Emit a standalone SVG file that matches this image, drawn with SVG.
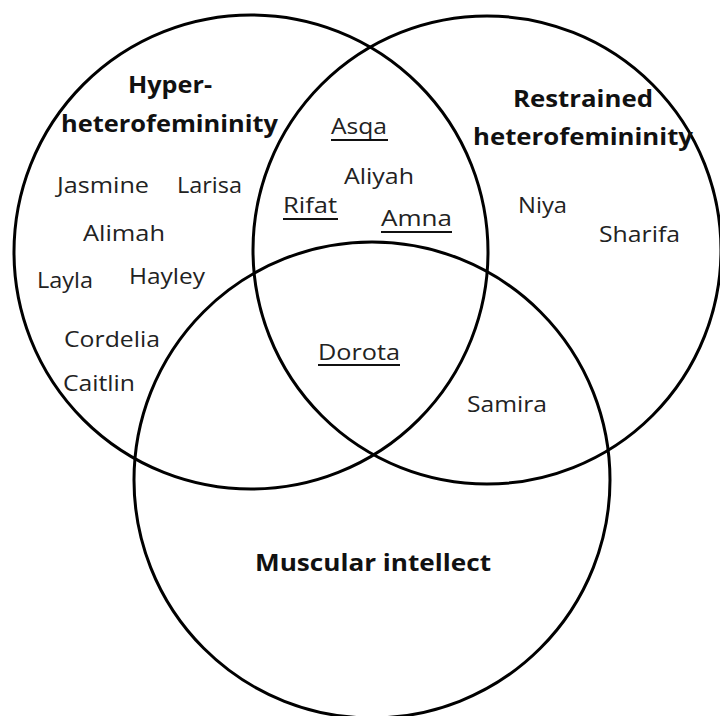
<svg xmlns="http://www.w3.org/2000/svg" width="720" height="716" viewBox="0 0 720 716">
<style>
.c{fill:none;stroke:#000;stroke-width:3}
.t{font-family:"Open Sans","Liberation Sans",sans-serif;font-size:21px;fill:#222}
.b{font-family:"Open Sans","Liberation Sans",sans-serif;font-size:24px;font-weight:bold;fill:#111}
.u{stroke:#111;stroke-width:2}
</style>
<rect width="720" height="716" fill="#fff"/>
<g id="circles">
<g id="hyper"><circle class="c" cx="251" cy="252" r="237"/></g>
<g id="restrained"><circle class="c" cx="487" cy="250" r="234"/></g>
<g id="muscular"><circle class="c" cx="372" cy="480" r="238"/></g>
</g>
<g id="labels">
<text class="b" x="128" y="93" textLength="84" lengthAdjust="spacingAndGlyphs">Hyper-</text>
<text class="b" x="61" y="132" textLength="217" lengthAdjust="spacingAndGlyphs">heterofemininity</text>
<text class="b" x="513" y="107" textLength="140" lengthAdjust="spacingAndGlyphs">Restrained</text>
<text class="b" x="473" y="145" textLength="220" lengthAdjust="spacingAndGlyphs">heterofemininity</text>
<text class="b" x="255" y="571" textLength="236" lengthAdjust="spacingAndGlyphs">Muscular intellect</text>
</g>
<g id="names">
<text class="t" x="57" y="193" textLength="92" lengthAdjust="spacingAndGlyphs">Jasmine</text>
<text class="t" x="177" y="193" textLength="65" lengthAdjust="spacingAndGlyphs">Larisa</text>
<text class="t" x="83" y="241" textLength="82" lengthAdjust="spacingAndGlyphs">Alimah</text>
<text class="t" x="37" y="288" textLength="56" lengthAdjust="spacingAndGlyphs">Layla</text>
<text class="t" x="129" y="284" textLength="76" lengthAdjust="spacingAndGlyphs">Hayley</text>
<text class="t" x="64" y="347" textLength="96" lengthAdjust="spacingAndGlyphs">Cordelia</text>
<text class="t" x="63" y="391" textLength="72" lengthAdjust="spacingAndGlyphs">Caitlin</text>
<text class="t" x="331" y="134" textLength="56" lengthAdjust="spacingAndGlyphs">Asqa</text>
<line class="u" x1="331" y1="140" x2="388" y2="140"/>
<text class="t" x="344" y="184" textLength="70" lengthAdjust="spacingAndGlyphs">Aliyah</text>
<text class="t" x="283" y="213" textLength="54" lengthAdjust="spacingAndGlyphs">Rifat</text>
<line class="u" x1="283" y1="219" x2="338" y2="219"/>
<text class="t" x="381" y="226" textLength="71" lengthAdjust="spacingAndGlyphs">Amna</text>
<line class="u" x1="381" y1="232" x2="452" y2="232"/>
<text class="t" x="518" y="213" textLength="49" lengthAdjust="spacingAndGlyphs">Niya</text>
<text class="t" x="599" y="242" textLength="81" lengthAdjust="spacingAndGlyphs">Sharifa</text>
<text class="t" x="318" y="360" textLength="82" lengthAdjust="spacingAndGlyphs">Dorota</text>
<line class="u" x1="318" y1="365" x2="400" y2="365"/>
<text class="t" x="467" y="412" textLength="80" lengthAdjust="spacingAndGlyphs">Samira</text>
</g>
</svg>
